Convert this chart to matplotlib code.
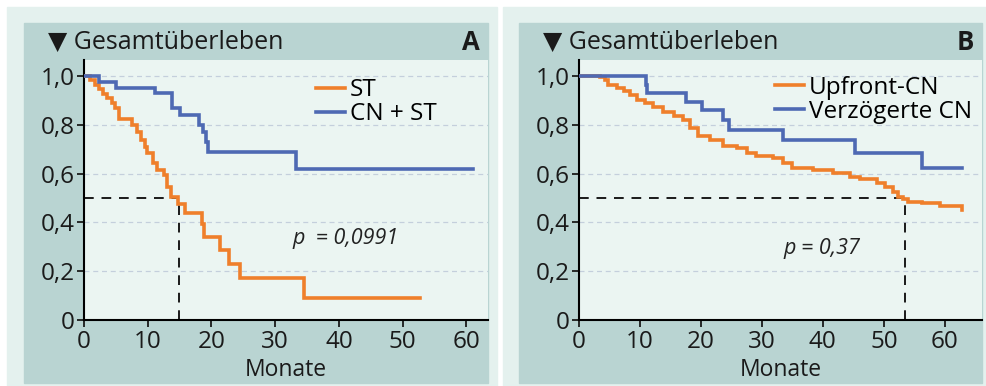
import numpy as np
import matplotlib
matplotlib.use("Agg")
import matplotlib.pyplot as plt
from matplotlib.patches import Rectangle

plt.rcParams['font.family'] = ['Open Sans', 'DejaVu Sans']

# ── Daten ───────────────────────────────────────────────
# A: ST vs. CN + ST
a_st_t = [0, 1.0, 1.7, 2.4, 3.0, 3.6, 4.4, 4.9, 5.5, 7.6, 8.3, 9.0, 9.6, 9.9,
          10.9, 11.4, 12.5, 13.0, 13.6, 14.8, 15.8, 18.5, 18.9, 21.4, 22.8,
          24.5, 34.6, 52.7]
a_st_s = [1.0, 0.984, 0.965, 0.947, 0.927, 0.91, 0.89, 0.87, 0.826, 0.80,
          0.772, 0.738, 0.71, 0.686, 0.642, 0.615, 0.594, 0.546, 0.505, 0.475,
          0.44, 0.392, 0.341, 0.286, 0.23, 0.173, 0.089, 0.089]
a_cn_t = [0, 2.4, 5.0, 11.2, 13.8, 15.1, 18.1, 18.7, 19.2, 19.4, 33.2, 61.0]
a_cn_s = [1.0, 0.976, 0.952, 0.929, 0.87, 0.84, 0.80, 0.77, 0.73, 0.69, 0.62, 0.62]
a_median = 14.9
a_p = "p  = 0,0991"

# B: Upfront-CN vs. verzögerte CN
b_up_t = [0, 3.4, 4.3, 4.8, 6.2, 7.3, 8.4, 9.5, 10.8, 12.2, 13.8, 15.5, 17.1,
          18.2, 19.6, 21.5, 23.7, 25.9, 27.5, 29.1, 31.9, 33.5, 34.9, 38.4,
          41.7, 44.4, 46.1, 48.8, 50.2, 51.5, 52.3, 53.2, 54.0, 56.2, 59.2,
          62.8, 62.9]
b_up_s = [1.0, 0.995, 0.984, 0.963, 0.953, 0.94, 0.922, 0.904, 0.888, 0.872,
          0.854, 0.836, 0.822, 0.786, 0.754, 0.738, 0.713, 0.704, 0.686, 0.672,
          0.663, 0.642, 0.622, 0.615, 0.604, 0.587, 0.577, 0.563, 0.546, 0.526,
          0.505, 0.495, 0.485, 0.478, 0.467, 0.452, 0.452]
b_vz_t = [0, 11.0, 11.2, 17.5, 20.1, 23.7, 24.6, 33.4, 45.2, 56.3, 62.9]
b_vz_s = [1.0, 0.963, 0.93, 0.895, 0.863, 0.82, 0.78, 0.738, 0.683, 0.624, 0.624]
b_median = 53.4
b_p = "p = 0,37"

ORANGE = "#ef7f2b"
BLUE = "#4e69b3"
LIGHT = "#e4f1ee"
DARK = "#b9d4d2"
PLOT = "#ebf5f2"
GRID = "#c4cfdc"
INK = "#1a1a1a"

W, H = 986, 386
fig = plt.figure(figsize=(W / 100, H / 100), dpi=100)
fig.patch.set_facecolor("white")


def rect(x0, y0, x1, y1, color):
    # Pixelkoordinaten (oben links = 0,0) -> Figurkoordinaten
    fig.patches.append(Rectangle((x0 / W, 1 - y1 / H), (x1 - x0) / W, (y1 - y0) / H,
                                 transform=fig.transFigure, color=color, zorder=-10))


# Hintergrundflächen
rect(7, 7, 497, 386, LIGHT)
rect(503, 7, 986, 386, LIGHT)
rect(24, 23, 488, 383, DARK)
rect(519, 23, 982, 383, DARK)


def panel(x_left, x_right, xmax, letter, series, median, ptext, ppos, leg_anchor):
    ax = fig.add_axes([x_left / W, (H - 320) / H, (x_right - x_left) / W, 260 / H])
    ax.set_facecolor(PLOT)
    ax.set_xlim(0, xmax)
    ax.set_ylim(0, 1.066)
    for y in [0.2, 0.4, 0.6, 0.8, 1.0]:
        ax.axhline(y, color=GRID, lw=0.9, ls=(0, (4, 3)), zorder=1)
    for t, s, c, lab in series:
        ax.step(t, s, where="post", color=c, lw=2.6, label=lab, zorder=3,
                solid_joinstyle="miter")
    ax.plot([0, median], [0.5, 0.5], color=INK, lw=1.4, ls=(0, (5, 4)), zorder=2)
    ax.plot([median, median], [0, 0.5], color=INK, lw=1.4, ls=(0, (5, 4)), zorder=2)

    ax.set_xticks([0, 10, 20, 30, 40, 50, 60])
    ax.set_yticks([0, 0.2, 0.4, 0.6, 0.8, 1.0])
    ax.set_yticklabels(["0", "0,2", "0,4", "0,6", "0,8", "1,0"])
    ax.tick_params(labelsize=17.5, length=5, width=1.3, colors=INK)
    ax.tick_params(axis="y", pad=1.5)
    ax.tick_params(axis="x", pad=2)
    for side in ["top", "right"]:
        ax.spines[side].set_visible(False)
    for side in ["left", "bottom"]:
        ax.spines[side].set_linewidth(1.5)
    ax.set_xlabel("Monate", fontsize=16.5, labelpad=3, color=INK)

    ax.legend(loc="upper left", bbox_to_anchor=leg_anchor, frameon=False,
              fontsize=17.5, handlelength=1.2, handletextpad=0.2,
              labelspacing=0.0, borderaxespad=0, borderpad=0)
    ax.text(ppos[0], ppos[1], ptext, fontsize=15.5, style="italic",
            color="#222222", va="center")

    # Kopfzeile
    fig.text((x_left - 36) / W, 1 - 42 / H, "▼ Gesamtüberleben", fontsize=18,
             va="center", ha="left", color=INK)
    fig.text((x_right - 8) / W, 1 - 43 / H, letter, fontsize=18.5, fontweight="bold",
             va="center", ha="right", color=INK)
    return ax


panel(84, 488, 63.4, "A",
      [(a_st_t, a_st_s, ORANGE, "ST"), (a_cn_t, a_cn_s, BLUE, "CN + ST")],
      a_median, a_p, (32.7, 0.336), (0.574, 0.93))
panel(579, 982, 66.1, "B",
      [(b_up_t, b_up_s, ORANGE, "Upfront-CN"), (b_vz_t, b_vz_s, BLUE, "Verzögerte CN")],
      b_median, b_p, (33.6, 0.295), (0.486, 0.94))

fig.savefig("out.png", dpi=100, facecolor="white")
